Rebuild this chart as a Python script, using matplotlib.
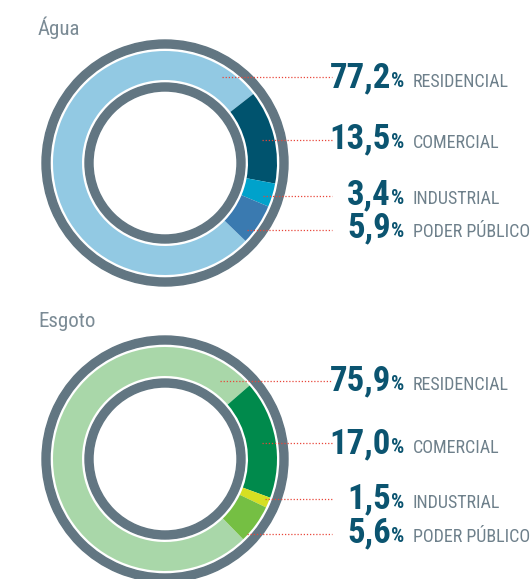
import matplotlib.pyplot as plt
from matplotlib import font_manager
from matplotlib.patches import Wedge

categorias = ['RESIDENCIAL', 'COMERCIAL', 'INDUSTRIAL', 'PODER PÚBLICO']
agua = [77.2, 13.5, 3.4, 5.9]
esgoto = [75.9, 17.0, 1.5, 5.6]
titulos = ['Água', 'Esgoto']
cores_agua = ['#92c9e3', '#00536e', '#00a2cb', '#3a7ab0']
cores_esgoto = ['#a9d7a9', '#008a4c', '#d6df22', '#75bf43']

W, H = 532, 579
cinza = '#627682'
num_cor = '#0b5470'
lab_cor = '#6e808b'

nomes = {f.name for f in font_manager.fontManager.ttflist}
if 'Roboto Condensed' in nomes:
    fonte = ['Roboto Condensed', 'DejaVu Sans']
    tam_num, tam_pct, tam_lab = 25, 15, 13
else:
    fonte = ['Liberation Sans', 'DejaVu Sans']
    tam_num, tam_pct, tam_lab = 20, 12, 11

fig = plt.figure(figsize=(W / 100, H / 100), dpi=100)
ax = fig.add_axes([0, 0, 1, 1])


def donut(cy, valores, cores, start, titulo, title_y, linhas_y, linhas_x0, base_y):
    cx = 165
    cy = H - cy
    ax.add_patch(Wedge((cx, cy), 123, 0, 360, width=8, color=cinza))
    ax.add_patch(Wedge((cx, cy), 80, 0, 360, width=8, color=cinza))
    ax.pie(valores, colors=cores, startangle=start, counterclock=False,
           center=(cx, cy), radius=112, frame=True,
           wedgeprops=dict(width=29, linewidth=0))
    ax.text(38, H - title_y, titulo, fontsize=15, color='#7b8b95',
            family=fonte, va='baseline')
    for i, v in enumerate(valores):
        ly = H - linhas_y[i]
        ax.plot([linhas_x0[i], 332], [ly, ly], ls=(0, (1, 1.5)),
                color='#e8463a', lw=0.9)
        by = H - base_y[i]
        ax.text(391, by, f'{v:.1f}'.replace('.', ','), ha='right', va='baseline',
                fontsize=tam_num, fontweight='heavy', color=num_cor, family=fonte)
        ax.text(391, by, '%', ha='left', va='baseline', fontsize=tam_pct,
                fontweight='heavy', color=num_cor, family=fonte)
        ax.text(413, by, categorias[i], ha='left', va='baseline',
                fontsize=tam_lab, color=lab_cor, family=fonte)


donut(163, agua, cores_agua, 38 + 3.6 * agua[0], titulos[0], 35,
      [77, 140, 196, 230], [222, 262, 263, 247], [87, 148, 204, 237])
donut(459, esgoto, cores_esgoto, 41 + 3.6 * esgoto[0], titulos[1], 327,
      [381, 443, 499, 534], [220, 262, 265, 247], [390, 453, 508, 542])

ax.set_xlim(0, W)
ax.set_ylim(0, H)
ax.set_aspect('equal')
ax.axis('off')
fig.savefig('out.png', dpi=100)
